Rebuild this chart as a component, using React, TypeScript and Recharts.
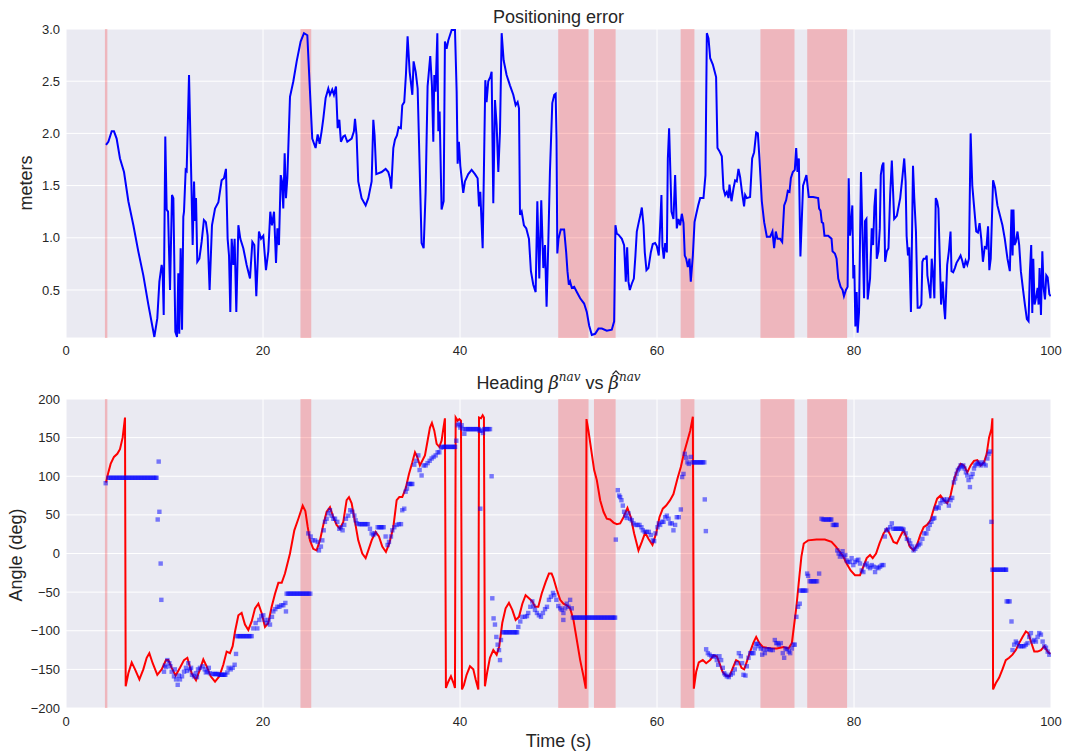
import React from "react";
import {
  ComposedChart,
  Line,
  Scatter,
  XAxis,
  YAxis,
  CartesianGrid,
  ReferenceArea,
} from "recharts";

// time axis
const timeTicks = [0, 20, 40, 60, 80, 100];
const errorTicks = [0.5, 1.0, 1.5, 2.0, 2.5, 3.0];
const angleTicks = [-200, -150, -100, -50, 0, 50, 100, 150, 200];

// intervals without fix (shaded)
const outageSpans = [
  [3.95, 4.2],
  [23.8, 24.9],
  [49.97, 53.05],
  [53.6, 55.8],
  [62.4, 63.8],
  [70.5, 73.96],
  [75.25, 79.3],
];

// positioning error [t, meters]
const errorA = [
  [4.06, 1.89], [4.3, 1.92], [4.64, 2.02], [4.87, 2.02], [5.14, 1.95], [5.48, 1.76], [5.89, 1.63], [6.33, 1.35],
  [6.84, 1.12], [7.34, 0.87], [7.85, 0.64], [8.36, 0.36], [8.97, 0.05], [9.27, 0.23], [9.48, 0.58], [9.71, 0.74],
  [9.81, 0.68], [9.92, 0.26], [10.08, 1.97], [10.22, 1.27], [10.36, 1.25], [10.56, 0.5], [10.76, 1.41], [10.9, 1.38],
  [11.1, 0.1], [11.27, 0.05], [11.4, 0.66], [11.5, 0.08], [11.64, 0.9], [11.78, 0.12], [11.91, 1.2], [11.98, 1.25],
  [12.15, 1.65], [12.25, 1.64], [12.49, 2.56], [12.69, 1.7], [12.86, 0.93], [13.0, 1.54], [13.1, 1.16], [13.2, 1.38],
  [13.33, 0.77], [13.54, 0.8], [13.77, 0.96], [14.0, 1.17], [14.2, 1.15], [14.38, 1.02], [14.58, 0.5], [14.82, 1.12],
  [15.13, 1.28], [15.47, 1.34], [15.8, 1.55], [16.04, 1.57], [16.24, 1.66], [16.41, 0.99], [16.55, 0.83], [16.68, 0.29],
  [16.82, 0.99], [16.99, 0.74], [17.12, 0.99], [17.29, 0.29], [17.5, 1.12], [17.7, 0.99], [18.0, 0.9], [18.34, 0.74],
  [18.68, 0.61], [18.92, 0.96], [19.12, 0.93], [19.32, 0.44], [19.59, 1.06], [19.8, 0.99], [20.03, 1.02], [20.3, 0.69],
  [20.54, 0.87], [20.74, 1.25], [20.91, 1.12], [21.12, 1.25], [21.32, 0.76], [21.46, 1.09], [21.62, 0.93], [21.8, 1.6],
  [21.93, 1.54], [22.06, 1.28], [22.2, 1.81], [22.33, 1.38], [22.47, 1.57], [22.6, 1.95], [22.74, 2.35], [23.08, 2.5],
  [23.42, 2.69], [23.82, 2.88], [24.16, 2.96], [24.5, 2.94],
];
const errorB = [
  [24.77, 2.4], [25.0, 1.95], [25.34, 1.86], [25.55, 1.99], [25.75, 1.9], [25.95, 2.02], [26.12, 2.14], [26.36, 2.34],
  [26.63, 2.43], [26.8, 2.37], [27.03, 2.42], [27.2, 2.37], [27.41, 2.45], [27.58, 2.05], [27.75, 2.13], [27.91, 1.92],
  [28.15, 1.97], [28.32, 1.98], [28.56, 1.92], [29.0, 1.95], [29.23, 2.02], [29.34, 2.14], [29.5, 1.98], [29.67, 1.54],
  [30.01, 1.38], [30.42, 1.31], [30.69, 1.38], [31.03, 1.54], [31.2, 2.13], [31.33, 1.98], [31.5, 1.61], [32.04, 1.63],
  [32.45, 1.66], [32.72, 1.63], [32.89, 1.57], [33.02, 1.47], [33.23, 1.86], [33.4, 1.94], [33.6, 1.98], [33.77, 2.06],
  [34.0, 2.05], [34.14, 2.27], [34.34, 2.3], [34.51, 2.56], [34.68, 2.93], [34.89, 2.59], [35.16, 2.37], [35.29, 2.69],
  [35.5, 2.59], [35.7, 2.43], [35.9, 1.69], [36.1, 0.95], [36.31, 0.9], [36.51, 1.44], [36.71, 2.45], [36.98, 2.74],
  [37.15, 2.46], [37.29, 1.92], [37.39, 2.56], [37.52, 2.4], [37.7, 2.96], [37.8, 2.02], [37.93, 2.21], [38.13, 1.27],
  [38.34, 1.35], [38.47, 2.88], [38.64, 2.81], [38.81, 2.89], [39.15, 2.99], [39.49, 2.99], [39.66, 2.4], [39.76, 1.71],
  [39.89, 1.92], [40.03, 1.69], [40.17, 1.57], [40.33, 1.43], [40.5, 1.54], [40.84, 1.61], [41.18, 1.65], [41.52, 1.61],
  [41.79, 1.57], [41.93, 1.3], [42.06, 1.44], [42.3, 0.9], [42.43, 1.66], [42.57, 2.51], [42.7, 2.3], [42.87, 2.5],
  [43.08, 2.54], [43.21, 2.59], [43.38, 1.33], [43.55, 2.32], [43.72, 2.08], [43.89, 1.63], [44.06, 2.02], [44.23, 2.96],
  [44.43, 2.7], [44.73, 2.56], [45.07, 2.46], [45.41, 2.37], [45.65, 2.27], [45.85, 2.3], [45.99, 2.24], [46.09, 1.22],
  [46.26, 1.25], [46.49, 1.12], [46.73, 1.09], [47.0, 0.99], [47.2, 0.68], [47.44, 0.55], [47.68, 0.48], [47.85, 1.35],
  [48.05, 0.61], [48.25, 1.36], [48.46, 0.71], [48.63, 0.93], [48.79, 0.34], [48.96, 0.93], [49.13, 1.63], [49.37, 2.29],
  [49.57, 2.37], [49.71, 2.38],
];
const errorC = [
  [49.8, 1.95], [49.88, 0.85], [50.0, 0.99], [50.23, 1.08], [50.57, 1.08], [50.78, 0.86], [50.91, 0.68], [51.05, 0.55],
  [51.18, 0.58], [51.35, 0.52], [51.59, 0.53], [51.86, 0.48], [52.2, 0.42], [52.6, 0.37], [52.87, 0.29], [53.11, 0.16],
  [53.38, 0.07], [53.72, 0.08], [54.06, 0.13], [54.4, 0.13], [54.9, 0.11], [55.41, 0.12], [55.65, 0.2], [55.78, 1.12],
  [55.92, 1.04], [56.09, 1.03], [56.43, 0.99], [56.66, 0.93], [56.83, 0.58], [56.97, 0.91], [57.1, 0.58], [57.24, 0.5],
  [57.44, 0.56], [57.65, 0.61], [57.81, 0.83], [57.95, 1.06], [58.15, 1.15], [58.32, 1.22], [58.46, 1.29], [58.63, 1.12],
  [58.76, 0.86], [58.93, 0.69], [59.13, 0.71], [59.37, 0.86], [59.57, 0.94], [59.81, 0.95], [59.98, 0.92], [60.18, 0.83],
  [60.32, 1.12], [60.45, 1.41], [60.55, 0.92], [60.69, 0.8], [60.83, 0.95], [61.0, 0.86], [61.1, 1.76], [61.23, 2.05],
  [61.34, 1.69], [61.47, 1.25], [61.67, 1.18], [61.84, 1.6], [62.01, 1.09], [62.18, 1.18], [62.35, 1.12], [62.52, 1.23],
  [62.69, 1.14], [62.82, 0.83], [62.96, 0.8], [63.13, 0.72], [63.3, 0.8], [63.43, 0.58], [63.64, 0.83], [63.81, 1.15],
  [63.97, 1.22], [64.18, 1.31], [64.38, 1.38], [64.72, 1.38], [64.92, 1.6], [65.06, 2.96], [65.23, 2.91], [65.4, 2.72],
  [65.67, 2.66], [66.0, 2.54], [66.14, 1.86], [66.34, 1.83], [66.58, 1.78], [66.75, 1.47], [66.92, 1.41], [67.09, 1.44],
  [67.26, 1.38], [67.36, 1.51], [67.56, 1.35], [67.76, 1.47], [67.93, 1.55], [68.1, 1.54], [68.27, 1.66], [68.44, 1.58],
  [68.64, 1.43], [68.84, 1.3], [68.95, 1.41], [69.12, 1.38], [69.45, 1.39], [69.66, 1.76], [69.86, 1.82], [70.07, 2.01],
  [70.24, 2.0], [70.4, 1.76], [70.64, 1.35], [70.88, 1.15], [71.15, 1.01], [71.49, 1.01], [71.72, 1.06], [71.89, 0.9],
  [72.06, 1.06], [72.23, 0.99], [72.5, 0.99], [72.71, 0.96], [72.91, 1.31], [73.11, 1.36], [73.28, 1.45], [73.45, 1.44],
  [73.59, 1.57], [73.79, 1.63], [73.99, 1.65], [74.13, 1.86], [74.26, 1.63], [74.4, 1.76],
];
const errorD = [
  [74.56, 0.82], [74.83, 1.5], [75.17, 1.6], [75.41, 1.39], [75.85, 1.39], [76.36, 1.38], [76.46, 1.28], [76.6, 1.26],
  [76.73, 1.15], [76.87, 1.14], [77.0, 1.02], [77.38, 1.02], [77.72, 0.99], [77.82, 0.87], [78.06, 0.85], [78.23, 0.8],
  [78.4, 0.61], [78.64, 0.53], [78.84, 0.5], [78.98, 0.44], [79.18, 0.5], [79.35, 0.53], [79.46, 1.57], [79.59, 1.02],
  [79.69, 1.12], [79.83, 1.31], [79.93, 0.61], [80.03, 0.74], [80.14, 0.15], [80.27, 0.48], [80.37, 0.09], [80.51, 0.29],
  [80.71, 1.63], [80.88, 0.97], [81.02, 0.42], [81.12, 1.16], [81.26, 1.18], [81.39, 0.41], [81.63, 0.61], [81.8, 1.09],
  [81.94, 0.93], [82.07, 1.3], [82.21, 1.47], [82.31, 0.8], [82.48, 0.87], [82.62, 1.09], [82.72, 1.6], [82.86, 1.69],
  [82.99, 1.72], [83.16, 0.77], [83.33, 0.87], [83.5, 0.9], [83.67, 1.41], [83.84, 1.74], [84.08, 1.18], [84.35, 1.21],
  [84.69, 1.38], [84.9, 1.57], [85.1, 1.76], [85.24, 1.54], [85.34, 1.02], [85.48, 0.83], [85.61, 0.91], [85.78, 0.29],
  [85.99, 1.69], [86.12, 1.38], [86.29, 1.06], [86.46, 0.33], [86.67, 0.33], [86.84, 0.36], [86.94, 0.77], [87.07, 0.8],
  [87.28, 0.8], [87.38, 0.83], [87.45, 0.64], [87.59, 0.55], [87.76, 0.42], [87.89, 0.8], [88.03, 0.64], [88.16, 0.42],
  [88.3, 1.38], [88.44, 1.35], [88.57, 1.28], [88.71, 0.8], [88.84, 0.36], [89.01, 0.58], [89.15, 0.33], [89.25, 0.22],
  [89.46, 0.74], [89.63, 0.87], [89.8, 1.06], [89.9, 0.68], [90.07, 0.67], [90.24, 0.71], [90.41, 0.76], [90.65, 0.8],
  [90.82, 0.83], [90.99, 0.78], [91.16, 0.71], [91.33, 0.78], [91.5, 0.74], [91.67, 0.8], [91.84, 2.0], [92.01, 1.5],
  [92.18, 1.31], [92.41, 1.06], [92.58, 1.05], [92.75, 1.14], [92.92, 0.99], [93.09, 0.77], [93.27, 0.91], [93.44, 0.9],
  [93.61, 1.11], [93.74, 0.69], [93.88, 0.8], [94.12, 1.55], [94.32, 1.48], [94.56, 1.31], [94.8, 1.22], [95.07, 1.12],
  [95.31, 0.99], [95.58, 0.8], [95.82, 0.68], [95.99, 1.27], [96.1, 0.83], [96.19, 1.27], [96.29, 0.93], [96.43, 0.96],
  [96.6, 1.06], [96.77, 0.93], [96.94, 0.68], [97.14, 0.52], [97.35, 0.36], [97.55, 0.22], [97.72, 0.2], [97.86, 0.68],
  [97.99, 0.93], [98.1, 0.28], [98.2, 0.8], [98.33, 0.36], [98.47, 0.42], [98.64, 0.52], [98.74, 0.36], [98.84, 0.71],
  [98.98, 0.26], [99.12, 0.87], [99.25, 0.52], [99.39, 0.41], [99.52, 0.64], [99.66, 0.62], [99.83, 0.46], [99.97, 0.44],
];

// true heading beta_nav [t, deg]
const headingA = [
  [4.06, 92], [4.3, 105], [4.53, 116], [4.87, 125], [5.21, 129], [5.48, 135], [5.75, 150], [5.99, 176], [6.06, -172],
  [6.33, -155], [6.67, -141], [7.01, -150], [7.45, -163], [7.85, -150], [8.19, -135], [8.46, -129], [8.8, -142],
  [9.27, -157], [9.71, -150], [10.15, -138], [10.39, -138], [10.73, -148], [11.13, -158], [11.57, -148], [11.98, -138],
  [12.32, -135], [12.76, -155], [13.2, -164], [13.6, -150], [13.94, -137], [14.28, -146], [14.69, -159], [15.13, -166],
  [15.57, -159], [15.97, -144], [16.31, -127], [16.65, -129], [16.92, -120], [17.16, -101], [17.5, -80], [17.83, -77],
  [18.17, -92], [18.51, -99], [18.85, -88], [19.19, -71], [19.53, -65], [19.86, -77], [20.2, -95], [20.54, -90],
  [20.88, -69], [21.22, -52], [21.56, -38], [21.9, -38], [22.23, -26], [22.74, 0], [23.18, 30], [23.59, 45], [24.03, 62],
  [24.3, 55], [24.53, 35], [24.77, 17], [25.1, 6],
];
const headingB = [
  [25.44, 4], [25.78, 17], [26.12, 37], [26.46, 54], [26.8, 60], [27.14, 47], [27.47, 37], [27.81, 32], [28.15, 41],
  [28.49, 69], [28.73, 73], [29.0, 65], [29.34, 41], [29.67, 17], [30.08, 0], [30.42, -6], [30.69, 4], [31.03, 17],
  [31.43, 28], [31.77, 22], [32.11, 9], [32.48, 2], [32.82, 13], [33.23, 34], [33.57, 69], [33.84, 73], [34.14, 73],
  [34.48, 84], [34.82, 103], [35.16, 118], [35.43, 131], [35.66, 125], [35.93, 114], [36.17, 120], [36.44, 127],
  [36.71, 146], [36.95, 163], [37.15, 169], [37.39, 159], [37.63, 142], [37.9, 138], [38.13, 146], [38.3, 161],
  [38.47, 175], [38.57, -174], [38.81, -166], [39.08, -159], [39.35, -168], [39.49, -174], [39.56, 176], [39.76, 172],
  [39.93, 174], [40.1, 172], [40.2, -176], [40.4, -170], [40.67, -157], [41.01, -146], [41.35, -150], [41.59, -163],
  [41.86, -176], [41.93, 176], [42.13, 175], [42.3, 179], [42.43, 176], [42.53, -172], [42.77, -153], [43.04, -135],
  [43.38, -125], [43.72, -131], [43.99, -120], [44.29, -90], [44.63, -71], [44.97, -64], [45.31, -73], [45.65, -86],
  [45.99, -82], [46.33, -65], [46.66, -54], [47.0, -58], [47.34, -62], [47.61, -69], [47.95, -69], [48.29, -52],
  [48.69, -37], [49.03, -26], [49.3, -26],
];
const headingC = [
  [49.49, -32], [49.83, -47], [50.17, -60], [50.5, -65], [50.84, -67], [51.18, -71], [51.52, -86], [51.86, -112],
  [52.2, -138], [52.54, -159], [52.77, -175], [52.84, 174], [53.04, 159], [53.38, 129], [53.62, 108], [53.89, 95],
  [54.23, 69], [54.57, 54], [54.9, 45], [55.24, 44], [55.58, 40], [55.92, 38], [56.26, 39], [56.6, 47], [57.0, 59],
  [57.34, 47], [57.68, 26], [58.12, 4], [58.46, 15], [58.8, 27], [59.13, 19], [59.54, 11], [59.91, 26], [60.25, 47],
  [60.59, 58], [60.93, 62], [61.33, 69], [61.67, 77], [62.08, 97], [62.42, 112], [62.76, 131], [63.09, 146],
  [63.37, 159], [63.64, 177], [63.74, -175], [63.98, -153], [64.24, -141], [64.65, -138], [64.99, -142], [65.4, -138],
  [65.73, -132], [66.07, -133], [66.34, -142], [66.65, -153], [66.98, -158], [67.36, -159], [67.7, -148], [68.03, -138],
  [68.31, -140], [68.58, -148], [68.85, -150], [69.12, -140], [69.46, -127], [69.8, -115], [70.07, -108], [70.4, -116],
  [70.74, -121], [71.15, -122], [71.66, -123], [72.16, -123], [72.84, -121], [73.35, -123], [73.69, -116],
];
const headingD = [
  [74.15, -69], [74.42, -34], [74.66, -4], [74.9, 13], [75.34, 17], [76.19, 18], [77.04, 18], [77.72, 15], [78.16, 9],
  [78.57, 2], [78.91, -4], [79.25, -13], [79.66, -22], [80.1, -28], [80.61, -28], [80.95, -17], [81.29, -6], [81.63, -2],
  [81.9, -6], [82.24, 0], [82.59, 13], [83.0, 26], [83.33, 32], [83.61, 26], [84.01, 15], [84.35, 13], [84.69, 22],
  [85.03, 30], [85.31, 22], [85.65, 9], [86.05, 4], [86.39, 11], [86.73, 24], [87.07, 34], [87.41, 37], [87.76, 43],
  [88.1, 58], [88.44, 71], [88.78, 75], [89.12, 69], [89.46, 65], [89.8, 75], [90.14, 95], [90.48, 108], [90.82, 116],
  [91.16, 114], [91.5, 105], [91.84, 114], [92.18, 120], [92.52, 121], [92.86, 114], [93.2, 118], [93.47, 129],
  [93.71, 150], [93.95, 161], [94.05, 175], [94.12, -176], [94.39, -168], [94.73, -161], [95.07, -150], [95.41, -138],
  [95.75, -135], [96.09, -131], [96.43, -125], [96.77, -116], [97.11, -108], [97.45, -101], [97.69, -103], [97.96, -114],
  [98.3, -127], [98.64, -127], [98.98, -125], [99.32, -120], [99.66, -127], [99.93, -130],
];

// estimated heading (markers) [t, deg]
const estimateA = [
  [4.03, 91], [4.3, 98], [4.45, 98], [4.6, 98], [4.75, 98], [4.9, 98], [5.05, 98], [5.2, 98], [5.35, 98], [5.5, 98],
  [5.65, 98], [5.8, 98], [5.95, 98], [6.1, 98], [6.25, 98], [6.4, 98], [6.55, 98], [6.7, 98], [6.85, 98], [7.0, 98],
  [7.15, 98], [7.3, 98], [7.45, 98], [7.6, 98], [7.75, 98], [7.9, 98], [8.05, 98], [8.2, 98], [8.35, 98], [8.5, 98],
  [8.65, 98], [8.8, 98], [8.95, 98], [9.1, 98], [9.2, 98],
  [9.31, 44], [9.41, 119], [9.48, 54], [9.61, -13], [9.68, -60],
  [9.95, -153], [10.05, -145], [10.15, -147], [10.29, -138], [10.49, -142], [10.6, -146], [10.73, -153], [10.96, -159],
  [11.05, -150], [11.17, -163], [11.34, -170], [11.45, -158], [11.57, -163], [11.78, -159], [11.98, -153], [12.18, -148],
  [12.3, -152], [12.42, -142], [12.59, -150], [12.7, -148], [12.79, -157], [13.0, -159], [13.2, -155], [13.3, -160],
  [13.4, -150], [13.6, -148], [13.88, -146], [14.08, -150], [14.2, -154], [14.35, -153], [14.5, -148], [14.62, -155],
  [14.89, -156], [15.05, -156], [15.16, -156], [15.3, -156], [15.43, -156], [15.56, -157], [15.7, -157], [15.84, -157],
  [15.97, -157], [16.08, -157], [16.18, -157], [16.38, -154], [16.51, -148], [16.72, -150], [16.92, -148],
  [17.12, -144], [17.26, -130],
  [17.35, -107], [17.5, -107], [17.65, -107], [17.8, -107], [17.95, -107], [18.1, -107], [18.25, -107], [18.4, -107],
  [18.55, -107], [18.7, -107], [18.85, -107],
  [19.02, -97], [19.25, -90], [19.42, -97], [19.63, -86], [19.83, -81], [20.03, -80], [20.17, -86], [20.37, -90],
  [20.57, -86], [20.71, -92], [20.91, -82], [21.05, -75], [21.25, -72], [21.46, -69], [21.66, -69], [21.86, -67],
  [22.06, -67], [22.27, -64], [22.33, -75],
  [22.4, -52], [22.55, -52], [22.7, -52], [22.85, -52], [23.0, -52], [23.15, -52], [23.3, -52], [23.45, -52],
  [23.6, -52], [23.75, -52], [23.9, -52], [24.05, -52], [24.2, -52], [24.35, -52], [24.5, -52], [24.65, -52], [24.8, -52],
];
const estimateB = [
  [24.6, 26], [24.84, 22], [25.04, 17], [25.28, 17], [25.55, 15], [25.68, 4], [25.88, 9], [26.02, 17], [26.16, 30],
  [26.29, 41], [26.46, 45], [26.63, 52], [26.8, 56], [26.97, 49], [27.14, 45], [27.31, 45], [27.54, 41], [27.75, 32],
  [27.91, 34], [28.08, 30], [28.25, 37], [28.42, 45], [28.66, 49], [28.86, 56], [29.07, 54], [29.27, 49], [29.4, 43],
  [29.54, 39], [29.74, 38], [29.9, 38], [30.05, 38], [30.2, 38], [30.35, 38], [30.5, 38], [30.65, 38], [30.86, 32],
  [31.03, 26], [31.2, 24], [31.37, 26], [31.64, 34], [31.8, 34], [31.95, 34], [32.1, 34], [32.25, 34], [32.45, 22],
  [32.65, 11], [32.79, 15], [32.99, 22], [33.13, 30], [33.33, 34], [33.57, 37], [33.8, 38], [34.01, 38], [34.14, 56],
  [34.34, 58], [34.48, 80], [34.62, 84], [34.75, 90], [34.9, 90], [35.05, 90], [35.16, 90], [35.36, 115], [35.56, 120],
  [35.77, 127], [35.9, 108], [36.1, 101], [36.31, 114], [36.51, 114], [36.71, 117], [36.92, 120], [37.12, 123],
  [37.32, 125], [37.53, 127], [37.73, 131], [37.9, 131], [38.07, 137],
  [38.2, 138], [38.35, 138], [38.5, 138], [38.65, 138], [38.8, 138], [38.95, 138], [39.1, 138], [39.25, 138],
  [39.4, 138], [39.5, 138], [39.62, 146], [39.76, 166], [39.89, 168], [40.03, 163], [40.17, 166], [40.3, 161],
  [40.44, 155], [40.55, 161], [40.7, 161], [40.85, 161], [41.0, 161], [41.15, 161], [41.3, 161], [41.45, 161],
  [41.6, 161], [41.75, 161], [41.9, 161], [41.99, 159], [42.06, 58], [42.2, 159], [42.33, 156], [42.45, 161],
  [42.6, 161], [42.75, 161], [42.9, 161], [43.05, 161],
  [43.21, 100], [43.28, -58], [43.41, -84], [43.55, -92], [43.69, -108], [43.82, -118], [43.96, -125], [44.06, -138],
  [44.16, -112], [44.35, -102], [44.5, -102], [44.65, -102], [44.8, -102], [44.95, -102], [45.1, -102], [45.25, -102],
  [45.4, -102], [45.55, -102], [45.7, -102], [45.8, -102],
  [45.92, -95], [46.12, -88], [46.33, -82], [46.6, -82], [46.8, -81], [46.93, -77], [47.14, -69], [47.34, -62],
  [47.47, -68], [47.61, -73], [47.81, -77], [48.01, -80], [48.22, -82], [48.42, -77], [48.63, -72], [48.83, -69],
  [49.03, -60], [49.23, -56], [49.44, -51], [49.57, -54], [49.78, -60], [49.98, -68], [50.18, -71], [50.32, -73],
  [50.49, -86],
];
const estimateC = [
  [50.5, -77], [50.67, -71], [50.84, -65], [51.01, -69], [51.18, -60], [51.35, -71],
  [51.45, -83], [51.6, -83], [51.75, -83], [51.9, -83], [52.05, -83], [52.2, -83], [52.35, -83], [52.5, -83],
  [52.65, -83], [52.8, -83], [52.95, -83], [53.1, -83], [53.25, -83], [53.4, -83], [53.55, -83], [53.7, -83],
  [53.85, -83], [54.0, -83], [54.15, -83], [54.3, -83], [54.45, -83], [54.6, -83], [54.75, -83], [54.9, -83],
  [55.05, -83], [55.2, -83], [55.35, -83], [55.5, -83], [55.65, -83], [55.75, -83],
  [55.82, 18], [56.02, 82], [56.16, 75], [56.26, 73], [56.39, 69], [56.53, 62], [56.66, 54], [56.8, 49], [56.93, 46],
  [57.1, 52], [57.27, 45], [57.44, 43], [57.61, 39], [57.81, 37], [58.02, 37], [58.22, 37], [58.42, 34], [58.56, 30],
  [58.76, 28], [58.97, 28], [59.17, 28], [59.37, 24], [59.57, 17], [59.71, 16], [59.85, 26], [60.05, 34], [60.18, 39],
  [60.32, 37], [60.52, 41], [60.66, 41], [60.83, 47], [61.0, 49], [61.17, 45], [61.33, 39], [61.5, 39], [61.67, 30],
  [61.84, 37], [62.01, 47], [62.21, 47], [62.42, 57], [62.55, 99], [62.69, 103], [62.82, 129], [62.96, 124],
  [63.09, 118], [63.23, 116], [63.43, 125], [63.6, 118], [63.75, 118], [63.9, 118], [64.05, 118], [64.2, 118],
  [64.35, 118], [64.5, 118], [64.65, 118], [64.8, 118], [64.85, 70], [64.96, 29],
  [64.99, -124], [65.16, -129], [65.33, -131], [65.53, -133], [65.73, -133], [65.94, -133], [66.07, -138], [66.21, -144],
  [66.34, -133], [66.51, -138], [66.68, -148], [66.82, -155], [66.95, -157], [67.09, -159], [67.29, -160], [67.49, -157],
  [67.7, -155], [67.9, -150], [68.1, -142], [68.31, -129], [68.51, -133], [68.64, -142], [68.78, -157], [68.98, -158],
  [69.12, -146], [69.29, -135], [69.46, -129], [69.66, -129], [69.8, -129], [69.93, -123], [70.07, -117], [70.2, -117],
  [70.34, -120], [70.54, -123], [70.68, -131], [70.81, -124], [70.95, -129], [71.15, -124], [71.35, -124], [71.55, -125],
  [71.76, -125], [71.96, -112], [72.1, -116], [72.23, -116], [72.37, -118], [72.57, -116], [72.77, -129], [72.91, -135],
  [73.04, -123], [73.18, -124], [73.38, -127], [73.52, -129], [73.69, -123], [73.85, -118], [73.99, -118],
];
const estimateD = [
  [74.15, -82], [74.32, -69], [74.49, -65], [74.56, -48], [74.7, -48], [74.85, -48], [75.0, -48], [75.15, -48],
  [75.24, -26], [75.34, -29], [75.5, -36], [75.65, -36], [75.8, -36], [75.95, -36], [76.1, -36], [76.25, -36],
  [76.46, -26], [76.7, 45], [76.85, 44], [77.0, 44], [77.15, 44], [77.3, 44], [77.45, 44], [77.6, 44], [77.7, 44],
  [77.85, 37], [78.0, 37], [78.15, 37], [78.25, 37], [78.3, 4], [78.44, 0],
  [78.57, -4], [78.71, -1], [78.84, 3], [78.98, -4], [79.12, -2], [79.25, -9], [79.42, -11], [79.59, -11], [79.76, -6],
  [79.93, -15], [80.1, -11], [80.27, -9], [80.44, -8], [80.61, -13], [80.78, -22], [80.95, -24], [81.12, -15],
  [81.29, -13], [81.46, -17], [81.63, -19], [81.8, -15], [81.97, -17], [82.14, -24], [82.31, -18], [82.48, -19],
  [82.65, -17], [82.82, -15], [82.99, -15], [83.13, 22], [83.27, 30], [83.44, 31], [83.67, 34], [83.84, 39],
  [84.0, 32], [84.15, 32], [84.3, 32], [84.45, 32], [84.6, 32], [84.75, 32], [84.9, 32], [85.03, 31], [85.24, 26],
  [85.37, 19], [85.58, 17], [85.71, 13], [85.88, 9], [86.05, 4], [86.22, 6], [86.39, 9], [86.56, 11], [86.73, 13],
  [86.94, 19], [87.14, 26], [87.35, 26], [87.52, 32], [87.69, 37], [87.86, 41], [88.03, 45], [88.16, 46], [88.3, 58],
  [88.44, 60], [88.61, 59], [88.78, 65], [88.95, 69], [89.12, 70], [89.29, 67], [89.46, 70], [89.63, 62], [89.8, 69],
  [89.97, 72], [90.14, 92], [90.27, 97], [90.41, 103], [90.54, 108], [90.68, 110], [90.82, 114], [90.95, 112],
  [91.09, 114], [91.22, 110], [91.36, 105], [91.5, 101], [91.63, 95], [91.77, 86], [91.9, 99], [92.04, 103],
  [92.18, 110], [92.31, 114], [92.45, 116], [92.59, 118], [92.72, 116], [92.86, 114], [93.03, 118], [93.2, 116],
  [93.37, 114], [93.54, 123], [93.67, 129], [93.81, 132], [93.95, 41],
  [94.05, -21], [94.2, -21], [94.35, -21], [94.5, -21], [94.65, -21], [94.8, -21], [94.95, -21], [95.1, -21],
  [95.25, -21], [95.4, -21], [95.45, -21], [95.5, -62], [95.65, -62], [95.8, -62], [95.99, -88], [96.09, -125],
  [96.26, -118], [96.43, -114], [96.6, -116], [96.77, -120], [96.94, -120], [97.11, -120], [97.28, -120], [97.45, -118],
  [97.62, -116], [97.79, -108], [97.96, -103], [98.13, -114], [98.3, -112], [98.47, -114], [98.64, -108], [98.81, -103],
  [98.98, -105], [99.15, -114], [99.32, -120], [99.49, -122], [99.66, -127], [99.83, -131],
];

const toPoints = (pairs: number[][]) => pairs.map(([t, v]) => ({ t, v }));
const errorData = toPoints([...errorA, ...errorB, ...errorC, ...errorD]);
const headingData = toPoints([...headingA, ...headingB, ...headingC, ...headingD]);
const estimateData = toPoints([...estimateA, ...estimateB, ...estimateC, ...estimateD]);

const FONT = '"Liberation Sans", Arial, sans-serif';
const tickStyle = { fill: "#262626", fontSize: 13, fontFamily: FONT };
const fmtAngle = (v: number) => (v < 0 ? "\u2212" + Math.abs(v) : String(v));

const SquareMarker = (props: any) => {
  const { cx, cy } = props;
  if (cx == null || cy == null) return null;
  return <rect x={cx - 2.2} y={cy - 2.2} width={4.4} height={4.4} fill="#0000ff" fillOpacity={0.5} />;
};

const sup: React.CSSProperties = {
  fontFamily: '"DejaVu Serif", serif',
  fontStyle: "italic",
  fontSize: 12,
  position: "relative",
  top: -8,
};
const greek: React.CSSProperties = { fontFamily: '"DejaVu Serif", serif', fontStyle: "italic" };

// beta with a hat accent drawn as a small svg stroke
const BetaHat = () => (
  <span style={{ ...greek, position: "relative", display: "inline-block" }}>
    β
    <svg width={8} height={5} style={{ position: "absolute", left: 3, top: -3 }}>
      <polyline points="0.5,4.5 4,0.8 7.5,4.5" fill="none" stroke="#262626" strokeWidth={1.1} />
    </svg>
  </span>
);

export default function App() {
  const shading = outageSpans.map(([a, b]) => (
    <ReferenceArea key={a} x1={a} x2={b} fill="#ff0000" fillOpacity={0.22} stroke="none" ifOverflow="hidden" />
  ));
  return (
    <div
      style={{
        position: "absolute",
        left: 0,
        top: 0,
        width: 1073,
        height: 754,
        background: "#fff",
        fontFamily: FONT,
        color: "#262626",
      }}
    >
      <div style={{ position: "absolute", left: 66, width: 985, top: 7, textAlign: "center", fontSize: 18, lineHeight: "20px" }}>
        Positioning error
      </div>
      <div
        style={{
          position: "absolute", left: -74, top: 173, width: 200, height: 20, lineHeight: "20px",
          textAlign: "center", fontSize: 18, transform: "rotate(-90deg)",
        }}
      >
        meters
      </div>
      <div style={{ position: "absolute", left: 0, top: 0 }}>
        <ComposedChart width={1073} height={370} margin={{ top: 29, right: 22, bottom: 2, left: 6 }}>
          <CartesianGrid fill="#EAEAF2" stroke="#ffffff" strokeWidth={1} />
          <XAxis
            type="number" dataKey="t" domain={[0, 100]} ticks={timeTicks} allowDataOverflow
            axisLine={false} tickLine={false} tickSize={0} tickMargin={8} height={30} tick={tickStyle}
          />
          <YAxis
            type="number" domain={[0.04, 3]} ticks={errorTicks} allowDataOverflow width={60}
            axisLine={false} tickLine={false} tickSize={0} tickMargin={6} tick={tickStyle}
            tickFormatter={(v: number) => v.toFixed(1)}
          />
          {shading}
          <Line
            data={errorData} dataKey="v" type="linear" stroke="#0000ff" strokeWidth={2}
            dot={false} activeDot={false} isAnimationActive={false}
          />
        </ComposedChart>
      </div>

      <div style={{ position: "absolute", left: 66, width: 985, top: 373, textAlign: "center", fontSize: 18, lineHeight: "20px", whiteSpace: "nowrap" }}>
        Heading <span style={greek}>β</span><span style={sup}>nav</span> vs <BetaHat />
        <span style={sup}>nav</span>
      </div>
      <div
        style={{
          position: "absolute", left: -84, top: 545, width: 200, height: 20, lineHeight: "20px",
          textAlign: "center", fontSize: 18, transform: "rotate(-90deg)",
        }}
      >
        Angle (deg)
      </div>
      <div style={{ position: "absolute", left: 0, top: 370 }}>
        <ComposedChart width={1073} height={384} margin={{ top: 29, right: 22, bottom: 16, left: 6 }}>
          <CartesianGrid fill="#EAEAF2" stroke="#ffffff" strokeWidth={1} />
          <XAxis
            type="number" dataKey="t" domain={[0, 100]} ticks={timeTicks} allowDataOverflow
            axisLine={false} tickLine={false} tickSize={0} tickMargin={9} height={30} tick={tickStyle}
          />
          <YAxis
            type="number" domain={[-200, 200]} ticks={angleTicks} allowDataOverflow width={60}
            axisLine={false} tickLine={false} tickSize={0} tickMargin={6} tick={tickStyle}
            tickFormatter={fmtAngle}
          />
          {shading}
          <Line
            data={headingData} dataKey="v" type="linear" stroke="#ff0000" strokeWidth={2}
            dot={false} activeDot={false} isAnimationActive={false}
          />
          <Scatter data={estimateData} dataKey="v" shape={SquareMarker} isAnimationActive={false} />
        </ComposedChart>
      </div>
      <div style={{ position: "absolute", left: 66, width: 985, top: 731, textAlign: "center", fontSize: 18, lineHeight: "20px" }}>
        Time (s)
      </div>
    </div>
  );
}
